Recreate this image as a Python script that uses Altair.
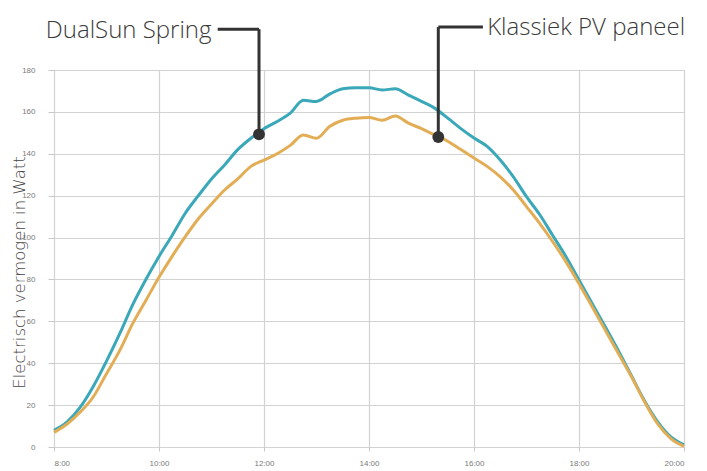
import altair as alt
import pandas as pd

# time in hours, every 15 minutes from 8:00 to 20:00
hours = [8 + 0.25 * i for i in range(49)]

dualsun = [8.0, 12, 19, 29, 41, 54, 68, 80, 91, 101, 111.6, 120, 128, 134.7, 142, 147.4,
           152, 155.4, 159.4, 165.5, 165, 168.5, 171, 171.5, 171.5,
           170.5, 171, 168, 165, 161.8, 157, 152, 147.5, 143.5, 137, 129, 119.5, 111, 101, 91,
           79.7, 68.5, 57.4, 46, 34, 22, 12, 4.8, 1]

klassiek = [7.0, 11, 16.7, 24, 35, 46, 59, 70, 81, 91, 100.4, 109, 116, 122.7, 128, 134,
            137, 140, 144, 149, 147.4, 153, 156, 157, 157.3,
            156, 158, 154.6, 152, 149, 146, 142, 138, 134, 129, 122.7, 114.8, 106.8, 98, 88.5,
            78, 67, 55.8, 44.6, 33.5, 21.5, 11, 4, 0.3]

series_names = ["DualSun Spring", "Klassiek PV paneel"]
series_colors = ["#3aa8b8", "#e3ad55"]

x_ticks = [8, 10, 12, 14, 16, 18, 20]
y_ticks = [0, 20, 40, 60, 80, 100, 120, 140, 160, 180]

# annotation anchors (hours, watt)
ann_label = ["DualSun Spring", "Klassiek PV paneel"]
ann_dot_x = [11.905, 15.32]
ann_dot_y = [149.3, 148.0]
ann_bar_x = [11.118, 16.17]
ann_bar_y = [199.5, 200.5]
ann_text_x = [11.0, 16.25]
ann_text_y = [195.5, 196.8]
ann_align = ["right", "left"]

rows = []
for name, vals in zip(series_names, [dualsun, klassiek]):
    for h, v in zip(hours, vals):
        rows.append({"uur": h, "watt": v, "serie": name})
df = pd.DataFrame(rows)

ann = pd.DataFrame({
    "label": ann_label, "dx": ann_dot_x, "dy": ann_dot_y,
    "bx": ann_bar_x, "by": ann_bar_y, "tx": ann_text_x, "ty": ann_text_y,
    "align": ann_align,
})

FONT = "Open Sans"
TITLE_FONT = "DejaVu Sans"

xscale = alt.Scale(domain=[8, 20], nice=False, zero=False)
yscale = alt.Scale(domain=[0, 180], nice=False)

xaxis = alt.Axis(values=x_ticks, labelExpr="format(datum.value, 'd') + ':00'",
                 title=None, grid=True, gridColor="#d2d2d2", gridWidth=1.2,
                 domain=False, ticks=True, tickSize=4, tickColor="#c8c8c8",
                 labelFontSize=8, labelColor="#7a7a7a", labelPadding=8, labelFont="Liberation Sans")
yaxis = alt.Axis(values=y_ticks, title="Electrisch vermogen in Watt",
                 titleFont=TITLE_FONT, titleFontWeight=200, titleFontSize=16.5, titleColor="#444444",
                 titleAngle=270, titleX=-30, titleY=202, titleAlign="center", titleBaseline="alphabetic",
                 grid=True, gridColor="#d2d2d2", gridWidth=1.2,
                 domain=False, ticks=True, tickSize=6, tickColor="#c8c8c8",
                 labelFontSize=8, labelColor="#7a7a7a", labelPadding=13, labelFont="Liberation Sans")

lines = alt.Chart(df).mark_line(strokeWidth=3, interpolate="monotone").encode(
    x=alt.X("uur:Q", scale=xscale, axis=xaxis),
    y=alt.Y("watt:Q", scale=yscale, axis=yaxis),
    color=alt.Color("serie:N", scale=alt.Scale(domain=series_names, range=series_colors), legend=None),
)

base = alt.Chart(ann)
hbar = base.mark_rule(strokeWidth=3, color="#333333", clip=False).encode(
    x=alt.X("bx:Q", scale=xscale), x2="dx:Q",
    y=alt.Y("by:Q", scale=yscale),
)
vbar = base.mark_rule(strokeWidth=3, color="#333333", clip=False).encode(
    x=alt.X("dx:Q", scale=xscale),
    y=alt.Y("by:Q", scale=yscale), y2="dy:Q",
)
dots = base.mark_point(filled=True, size=140, color="#333333", opacity=1, clip=False).encode(
    x=alt.X("dx:Q", scale=xscale), y=alt.Y("dy:Q", scale=yscale),
)
text_r = alt.Chart(ann[ann["align"] == "right"]).mark_text(
    font=FONT, fontWeight=300, fontSize=24, color="#3a3a3a", align="right", baseline="alphabetic", clip=False
).encode(x=alt.X("tx:Q", scale=xscale), y=alt.Y("ty:Q", scale=yscale), text="label:N")
text_l = alt.Chart(ann[ann["align"] == "left"]).mark_text(
    font=FONT, fontWeight=300, fontSize=24, color="#3a3a3a", align="left", baseline="alphabetic", clip=False
).encode(x=alt.X("tx:Q", scale=xscale), y=alt.Y("ty:Q", scale=yscale), text="label:N")

chart = alt.layer(lines, hbar, vbar, dots, text_r, text_l).properties(
    width=630, height=377,
    autosize=alt.AutoSizeParams(type="none"),
    padding={"left": 46, "top": 62, "right": 15, "bottom": 22},
).configure_view(stroke=None).configure(background="white")

chart.save("out.html", embed_options={"renderer": "svg", "actions": False})
